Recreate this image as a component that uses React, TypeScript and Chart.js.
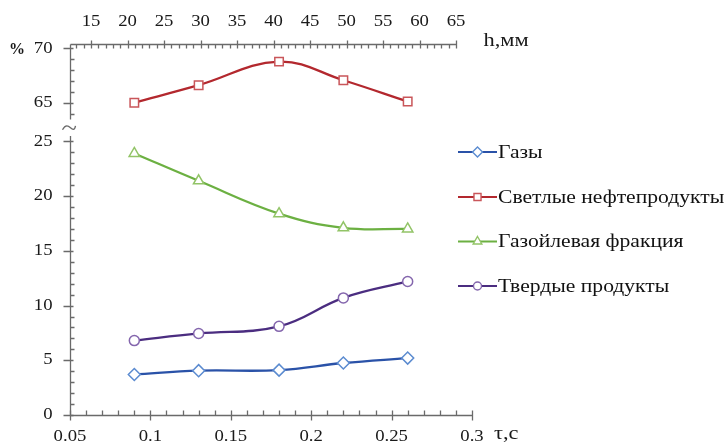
import React, { useEffect, useRef } from "react";
import { Chart, registerables } from "chart.js";

Chart.register(...registerables);

// ---- data ----
const tau = [0.09, 0.13, 0.18, 0.22, 0.26];
const gases = [3.7, 4.05, 4.1, 4.75, 5.2];
const lightProducts = [65.05, 66.65, 68.8, 67.1, 65.15];
const gasOil = [23.9, 21.4, 18.4, 17.1, 17.0];
const solids = [6.8, 7.45, 8.1, 10.7, 12.2];

const seriesNames = ["Газы", "Светлые нефтепродукты", "Газойлевая фракция", "Твердые продукты"];

const xTickValues = [0.05, 0.1, 0.15, 0.2, 0.25, 0.3];
const xTickLabels = ["0.05", "0.1", "0.15", "0.2", "0.25", "0.3"];
const hTickValues = [15, 20, 25, 30, 35, 40, 45, 50, 55, 60, 65];
const lowerYTicks = [0, 5, 10, 15, 20, 25];
const upperYTicks = [65, 70];

const xTitle = "τ,с";
const hTitle = "h,мм";
const yTitle = "%";

// upper (65-70) part of the broken axis is shifted down by this amount
const BREAK_OFFSET = 36.51;
const Y_MAX = 33.9;
const X_MIN = 0.05;
const X_MAX = 0.3;
const H_MIN = 12.12;
const H_MAX = 67.19;
const UPPER_AXIS_END = 63.5; // lowest value of the upper segment
const LOWER_AXIS_TOP = 25.5; // top of the lower segment

const FONT = '"Liberation Serif", "Times New Roman", serif';
const AXIS_COLOR = "#6a6a6a";
const STRETCH = 1.17;

const lineColors = ["#2a52a8", "#b3282e", "#6cb042", "#4b2d80"];
const markerColors = ["#5b8bd0", "#c9565a", "#92c467", "#8466ad"];
const markerStyles = ["rectRot", "rect", "triangle", "circle"];
const markerRadii = [6, 6, 6, 5];

function stretchedText(
  ctx: CanvasRenderingContext2D,
  text: string,
  x: number,
  y: number,
  align: "left" | "center" | "right",
  sx: number
) {
  const w = ctx.measureText(text).width * sx;
  let left = x;
  if (align === "center") left = x - w / 2;
  else if (align === "right") left = x - w;
  ctx.save();
  ctx.translate(left, y);
  ctx.scale(sx, 1);
  ctx.textAlign = "left";
  ctx.fillText(text, 0, 0);
  ctx.restore();
}

function drawMarker(ctx: CanvasRenderingContext2D, style: string, x: number, y: number, r: number) {
  ctx.beginPath();
  if (style === "rectRot") {
    ctx.moveTo(x, y - r);
    ctx.lineTo(x + r, y);
    ctx.lineTo(x, y + r);
    ctx.lineTo(x - r, y);
    ctx.closePath();
  } else if (style === "rect") {
    const s = r * Math.SQRT1_2;
    ctx.rect(x - s, y - s, 2 * s, 2 * s);
  } else if (style === "triangle") {
    for (let i = 0; i < 3; i++) {
      const a = (i * 2 * Math.PI) / 3;
      const px = x + Math.sin(a) * r;
      const py = y - Math.cos(a) * r;
      if (i === 0) ctx.moveTo(px, py);
      else ctx.lineTo(px, py);
    }
    ctx.closePath();
  } else {
    ctx.arc(x, y, r, 0, Math.PI * 2);
  }
  ctx.fill();
  ctx.stroke();
}

const axesPlugin = {
  id: "brokenAxes",
  beforeDatasetsDraw(chart: any) {
    const ctx: CanvasRenderingContext2D = chart.ctx;
    const xs = chart.scales.x;
    const ys = chart.scales.y;
    const hs = chart.scales.h;
    const area = chart.chartArea;
    ctx.save();
    ctx.strokeStyle = AXIS_COLOR;
    ctx.lineWidth = 1.3;
    const L = Math.round(area.left) + 0.5;
    const B = Math.round(area.bottom) + 0.5;
    const T = Math.round(area.top) + 0.5;

    // bottom axis
    ctx.beginPath();
    ctx.moveTo(L, B);
    ctx.lineTo(Math.round(xs.getPixelForValue(X_MAX)) + 0.5, B);
    for (let i = 5; i <= 30; i++) {
      const v = i / 100;
      const px = Math.round(xs.getPixelForValue(v)) + 0.5;
      if (i % 5 === 0) {
        ctx.moveTo(px, B - 5);
        ctx.lineTo(px, B + 5);
      } else {
        ctx.moveTo(px, B - 5);
        ctx.lineTo(px, B);
      }
    }
    ctx.stroke();

    // top (h) axis
    const hEnd = Math.round(hs.getPixelForValue(65)) + 0.5;
    ctx.beginPath();
    ctx.moveTo(L, T);
    ctx.lineTo(hEnd, T);
    for (let h = 13; h <= 65; h++) {
      const px = Math.round(hs.getPixelForValue(h)) + 0.5;
      if (h % 5 === 0) {
        ctx.moveTo(px, T - 4);
        ctx.lineTo(px, T + 4);
      } else {
        ctx.moveTo(px, T);
        ctx.lineTo(px, T + 4);
      }
    }
    ctx.stroke();

    // left axis, upper segment
    const upEnd = ys.getPixelForValue(UPPER_AXIS_END - BREAK_OFFSET);
    ctx.beginPath();
    ctx.moveTo(L, T);
    ctx.lineTo(L, upEnd);
    for (let v = 64; v <= 70; v++) {
      const py = Math.round(ys.getPixelForValue(v - BREAK_OFFSET)) + 0.5;
      if (v % 5 === 0) {
        ctx.moveTo(L - 7, py);
        ctx.lineTo(L + 3, py);
      } else {
        ctx.moveTo(L, py);
        ctx.lineTo(L + 4, py);
      }
    }
    ctx.stroke();

    // left axis, lower segment
    const lowTop = ys.getPixelForValue(LOWER_AXIS_TOP);
    ctx.beginPath();
    ctx.moveTo(L, lowTop);
    ctx.lineTo(L, B);
    for (let v = 0; v <= 25; v++) {
      const py = Math.round(ys.getPixelForValue(v)) + 0.5;
      if (v % 5 === 0) {
        ctx.moveTo(L - 7, py);
        ctx.lineTo(L + 3, py);
      } else {
        ctx.moveTo(L, py);
        ctx.lineTo(L + 4, py);
      }
    }
    ctx.stroke();

    // break symbol
    const by = (upEnd + lowTop) / 2;
    ctx.beginPath();
    ctx.moveTo(L - 8, by + 2);
    ctx.bezierCurveTo(L - 5, by - 4, L - 2, by - 2, L, by);
    ctx.bezierCurveTo(L + 2, by + 2, L + 4, by + 3, L + 5, by - 2);
    ctx.stroke();

    // tick labels
    ctx.fillStyle = "#1a1a1a";
    ctx.font = `16px ${FONT}`;
    ctx.textBaseline = "middle";
    xTickValues.forEach((v, i) => {
      stretchedText(ctx, xTickLabels[i], xs.getPixelForValue(v), B + 21, "center", STRETCH);
    });
    hTickValues.forEach((v) => {
      stretchedText(ctx, String(v), hs.getPixelForValue(v), T - 23, "center", STRETCH);
    });
    lowerYTicks.forEach((v) => {
      stretchedText(ctx, String(v), L - 18, ys.getPixelForValue(v), "right", STRETCH);
    });
    upperYTicks.forEach((v) => {
      stretchedText(ctx, String(v), L - 18, ys.getPixelForValue(v - BREAK_OFFSET), "right", STRETCH);
    });

    // axis titles
    ctx.font = `19px ${FONT}`;
    stretchedText(ctx, xTitle, xs.getPixelForValue(X_MAX) + 22, B + 19, "left", 1.18);
    stretchedText(ctx, hTitle, hEnd + 27, T - 3, "left", 1.18);
    ctx.font = `bold 16px ${FONT}`;
    ctx.textAlign = "left";
    ctx.fillText(yTitle, 9, ys.getPixelForValue(70 - BREAK_OFFSET) + 1);
    ctx.restore();
  },
  afterDraw(chart: any) {
    const ctx: CanvasRenderingContext2D = chart.ctx;
    ctx.save();
    const x0 = 458;
    const x1 = 497;
    const rows = [152, 197, 241.5, 286];
    seriesNames.forEach((name, i) => {
      const y = rows[i];
      ctx.strokeStyle = lineColors[i];
      ctx.lineWidth = 2.2;
      ctx.beginPath();
      ctx.moveTo(x0, y);
      ctx.lineTo(x1, y);
      ctx.stroke();
      ctx.fillStyle = "#ffffff";
      ctx.strokeStyle = markerColors[i];
      ctx.lineWidth = 1.4;
      drawMarker(ctx, markerStyles[i], (x0 + x1) / 2, y, markerRadii[i] - 1);
      ctx.fillStyle = "#111111";
      ctx.font = `18px ${FONT}`;
      ctx.textBaseline = "middle";
      stretchedText(ctx, name, x1 + 1, y + 1, "left", 1.2);
    });
    ctx.restore();
  },
};

export default function App() {
  const ref = useRef<HTMLCanvasElement | null>(null);
  useEffect(() => {
    if (!ref.current) return;
    const seriesData = [
      gases,
      lightProducts.map((v) => v - BREAK_OFFSET),
      gasOil,
      solids,
    ];
    const chart = new Chart(ref.current, {
      type: "line",
      data: {
        datasets: seriesNames.map((name, i) => ({
          label: name,
          data: tau.map((t, k) => ({ x: t, y: seriesData[i][k] })),
          borderColor: lineColors[i],
          borderWidth: 2.3,
          tension: 0.4,
          pointStyle: markerStyles[i] as any,
          pointRadius: markerRadii[i],
          pointBorderColor: markerColors[i],
          pointBackgroundColor: "#ffffff",
          pointBorderWidth: 1.5,
          fill: false,
        })),
      },
      options: {
        animation: false,
        responsive: false,
        devicePixelRatio: 1,
        layout: { padding: { left: 70, top: 44, right: 255, bottom: 27 } },
        scales: {
          x: { type: "linear", min: X_MIN, max: X_MAX, display: false },
          h: { type: "linear", axis: "x", position: "top", min: H_MIN, max: H_MAX, display: false },
          y: { type: "linear", min: 0, max: Y_MAX, display: false },
        },
        plugins: { legend: { display: false }, tooltip: { enabled: false } },
      } as any,
      plugins: [axesPlugin],
    });
    return () => chart.destroy();
  }, []);
  return (
    <div style={{ position: "absolute", left: 0, top: 0, width: 727, height: 442, background: "#ffffff" }}>
      <canvas ref={ref} width={727} height={442} style={{ width: 727, height: 442 }} />
    </div>
  );
}
